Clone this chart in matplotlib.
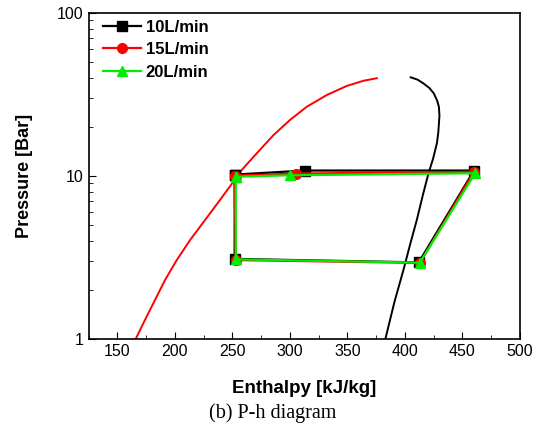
import matplotlib
matplotlib.use("Agg")
import matplotlib.pyplot as plt
from matplotlib.ticker import LogLocator, MultipleLocator, FixedLocator, NullFormatter

plt.rcParams["font.family"] = ["Liberation Sans", "DejaVu Sans"]

# saturation dome
liq_h = [166, 174.1, 182.8, 191.5, 201.7, 213.3, 226.3, 239.3, 250.9, 256.7,
         271.3, 285.7, 300.2, 314.7, 332.1, 349.5, 364.0, 375.6]
liq_p = [1.0, 1.31, 1.735, 2.30, 3.05, 4.05, 5.37, 7.13, 9.23, 10.6,
         13.8, 17.8, 22.1, 26.6, 31.4, 35.7, 38.4, 39.8]
vap_h = [405, 411, 416, 421, 425, 428, 429.5, 430, 429, 427.8, 424.5, 420.5, 415.5, 410.4, 404.5, 398.7, 391, 383]
vap_p = [40.3, 39.0, 37.0, 34.8, 32.2, 29.0, 26.6, 23.5, 18.5, 15.9, 12.8, 10.4, 7.6, 5.4, 3.8, 2.65, 1.7, 1.0]

# cycle points per flow rate
labels = ["10L/min", "15L/min", "20L/min"]
h_10 = [252, 252, 412, 460, 313, 252]
p_10 = [10.2, 3.1, 2.95, 10.8, 10.8, 10.2]
h_15 = [252, 253, 413, 460, 305, 252]
p_15 = [10.05, 3.05, 2.93, 10.6, 10.35, 10.05]
h_20 = [253, 253, 413, 461, 300, 253]
p_20 = [9.9, 3.08, 2.94, 10.4, 10.1, 9.9]

colors = ["black", "red", "#00ee00"]
markers = ["s", "o", "^"]

fig = plt.figure(figsize=(5.42, 4.25), dpi=100)
ax = fig.add_axes([0.1633, 0.2024, 0.7961, 0.767])

ax.plot(liq_h, liq_p, color="red", lw=1.4)
ax.plot(vap_h, vap_p, color="black", lw=1.4)

for h, p, c, m, lab in zip([h_10, h_15, h_20], [p_10, p_15, p_20], colors, markers, labels):
    ax.plot(h, p, color=c, marker=m, markersize=7, lw=1.6, label=lab)

ax.set_yscale("log")
ax.set_xlim(125, 500)
ax.set_ylim(1, 100)
ax.xaxis.set_major_locator(FixedLocator([150, 200, 250, 300, 350, 400, 450, 500]))
ax.xaxis.set_minor_locator(MultipleLocator(25))
ax.yaxis.set_major_locator(LogLocator(base=10))
ax.yaxis.set_minor_locator(LogLocator(base=10, subs=range(2, 10)))
ax.yaxis.set_minor_formatter(NullFormatter())
ax.set_yticks([1, 10, 100])
ax.set_yticklabels(["1", "10", "100"])
ax.tick_params(which="both", direction="in", top=False, right=False, labelsize=11.5)
ax.tick_params(which="major", length=5)
ax.tick_params(which="minor", length=3)
for s in ax.spines.values():
    s.set_linewidth(1.2)

ax.set_xlabel("Enthalpy [kJ/kg]", fontsize=13.5, fontweight="bold", labelpad=15)
ax.set_ylabel("Pressure [Bar]", fontsize=13, fontweight="bold", labelpad=17)

leg = ax.legend(loc="upper left", bbox_to_anchor=(0.017, 1.0), frameon=False,
                prop={"weight": "bold", "size": 12}, handlelength=2.3,
                labelspacing=0.45, borderaxespad=0, handletextpad=0.3)

fig.text(0.503, 0.027, "(b) P-h diagram", family=["Liberation Serif", "DejaVu Serif"],
         fontsize=14.5, ha="center", va="center")

fig.savefig("out.png", dpi=100)
